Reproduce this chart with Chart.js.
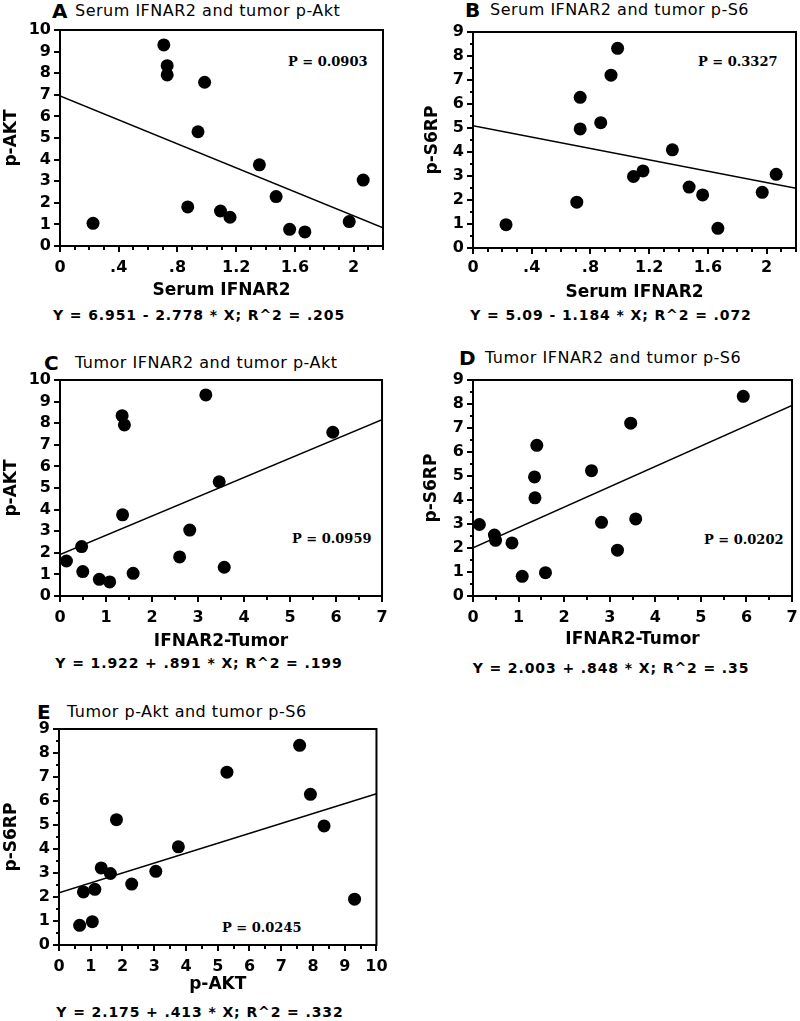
<!DOCTYPE html>
<html>
<head>
<meta charset="utf-8">
<script src="https://cdn.jsdelivr.net/npm/chart.js"></script>
<style>
  body { margin: 0; background: #fff; width: 800px; height: 1021px; position: relative; overflow: hidden; }
  canvas { position: absolute; }
  .ttl { position: absolute; line-height: 20px; height: 20px; white-space: nowrap; color: #000;
         font-family: "DejaVu Sans", sans-serif; font-size: 16px; letter-spacing: 0.5px; }
  .ltr { position: absolute; line-height: 22px; height: 22px; color: #000;
         font-family: "DejaVu Sans", sans-serif; font-size: 20px; font-weight: bold; }
  .eq { position: absolute; width: 400px; text-align: center; line-height: 18px; height: 18px; white-space: nowrap;
        font-family: "DejaVu Sans", sans-serif; font-size: 14px; font-weight: bold; letter-spacing: 0.9px; }
  .pv { position: absolute; line-height: 16px; height: 16px; white-space: nowrap;
        font-family: "DejaVu Serif", serif; font-size: 13px; font-weight: bold; }
</style>
</head>
<body>
<script>
// one entry per patient
const serumIFNAR2 = [0.225, 0.707, 0.73, 0.73, 0.87, 0.94, 0.985, 1.093, 1.158, 1.358, 1.472, 1.564, 1.668, 1.97, 2.065];
const tumorIFNAR2 = [1.59, 3.17, 1.35, 1.40, 2.60, 3.46, 5.93, 0.14, 3.57, 1.36, 0.47, 0.855, 1.08, 0.495, 2.82];
const pAkt        = [1.05, 9.31, 8.35, 7.92, 1.81, 5.29, 7.58, 1.62, 1.33, 3.76, 2.29, 0.77, 0.65, 1.13, 3.05];
const pS6         = [0.97, 1.91, 4.96, 6.28, 5.22, 7.20, 8.32, 2.98, 3.21, 4.09, 2.54, 2.21, 0.82, 2.32, 3.07];

// printed regression results
const intercepts = [6.951, 5.09, 1.922, 2.003, 2.175];
const slopes = [-2.778, -1.184, 0.891, 0.848, 0.413];
const equations = [
  "Y = 6.951 - 2.778 * X; R^2 = .205",
  "Y = 5.09 - 1.184 * X; R^2 = .072",
  "Y = 1.922 + .891 * X; R^2 = .199",
  "Y = 2.003 + .848 * X; R^2 = .35",
  "Y = 2.175 + .413 * X; R^2 = .332"
];
const pValues = ["P = 0.0903", "P = 0.3327", "P = 0.0959", "P = 0.0202", "P = 0.0245"];

// tick labels
const serumTicks = [0, 0.4, 0.8, 1.2, 1.6, 2];
const tumorTicks = [0, 1, 2, 3, 4, 5, 6, 7];
const aktTicks = [0, 1, 2, 3, 4, 5, 6, 7, 8, 9, 10];
const s6Ticks = [0, 1, 2, 3, 4, 5, 6, 7, 8, 9];

const panels = [
  { letter: "A", title: "Serum IFNAR2 and tumor p-Akt", xs: serumIFNAR2, ys: pAkt, xTitle: "Serum IFNAR2", yTitle: "p-AKT",
    xMax: 2.2, yMax: 10, xTicks: serumTicks, yTicks: aktTicks, xMinor: 0.1, yMinor: 0 },
  { letter: "B", title: "Serum IFNAR2 and tumor p-S6", xs: serumIFNAR2, ys: pS6, xTitle: "Serum IFNAR2", yTitle: "p-S6RP",
    xMax: 2.2, yMax: 9, xTicks: serumTicks, yTicks: s6Ticks, xMinor: 0.1, yMinor: 0.5 },
  { letter: "C", title: "Tumor IFNAR2 and tumor p-Akt", xs: tumorIFNAR2, ys: pAkt, xTitle: "IFNAR2-Tumor", yTitle: "p-AKT",
    xMax: 7, yMax: 10, xTicks: tumorTicks, yTicks: aktTicks, xMinor: 0.5, yMinor: 0 },
  { letter: "D", title: "Tumor IFNAR2 and tumor p-S6", xs: tumorIFNAR2, ys: pS6, xTitle: "IFNAR2-Tumor", yTitle: "p-S6RP",
    xMax: 7, yMax: 9, xTicks: tumorTicks, yTicks: s6Ticks, xMinor: 0.5, yMinor: 0.5 },
  { letter: "E", title: "Tumor p-Akt and tumor p-S6", xs: pAkt, ys: pS6, xTitle: "p-AKT", yTitle: "p-S6RP",
    xMax: 10, yMax: 9, xTicks: aktTicks, yTicks: s6Ticks, xMinor: 0.5, yMinor: 0.5 }
];

// page geometry: canvas box, plot box, text anchors
const layout = [
  { cx: 0,   cy: 0,   w: 400, h: 305, L: 60,  T: 30,  R: 383, B: 246, tickY: 268, xtY: 291, ytX: 12,
    lx: 52, tx: 75, ty: 11, eqX: 199, eqY: 315, pX: 288, pY: 62 },
  { cx: 400, cy: 0,   w: 410, h: 305, L: 473, T: 32,  R: 796, B: 248, tickY: 268, xtY: 293, ytX: 433,
    lx: 465, tx: 490, ty: 10, eqX: 611, eqY: 315, pX: 698, pY: 62 },
  { cx: 0,   cy: 330, w: 400, h: 325, L: 60,  T: 380, R: 383, B: 596, tickY: 618, xtY: 642, ytX: 12,
    lx: 44, tx: 75, ty: 363, eqX: 199, eqY: 663, pX: 292, pY: 539 },
  { cx: 400, cy: 330, w: 410, h: 325, L: 473, T: 380, R: 796, B: 596, tickY: 618, xtY: 640, ytX: 432,
    lx: 459, tx: 485, ty: 358, eqX: 611, eqY: 668, pX: 704, pY: 540 },
  { cx: 0,   cy: 660, w: 400, h: 340, L: 59,  T: 729, R: 381, B: 945, tickY: 967, xtY: 985, ytX: 12,
    lx: 37, tx: 67, ty: 712, eqX: 200, eqY: 1012, pX: 222, pY: 928 }
];

Chart.defaults.font.family = "DejaVu Sans";
Chart.defaults.font.weight = "bold";
Chart.defaults.color = "#000";

const tickFont = { family: "DejaVu Sans", size: 16, weight: "bold" };
const titleFont = { family: "DejaVu Sans", size: 17, weight: "bold" };
const lineH = 1.2;

function fmt(v) {
  return String(v).replace(/^0\./, ".");
}

// frame and outward tick marks, drawn from the chart's own scales
const framePlugin = {
  id: "frame",
  beforeDatasetsDraw(chart, args, opts) {
    const { ctx, chartArea: a, scales: { x, y } } = chart;
    ctx.save();
    ctx.strokeStyle = "#000";
    ctx.lineWidth = 2;
    ctx.strokeRect(a.left, a.top, a.right - a.left, a.bottom - a.top);
    ctx.beginPath();
    const drawX = (v, len) => { const px = Math.round(x.getPixelForValue(v)); ctx.moveTo(px, a.bottom); ctx.lineTo(px, a.bottom + len); };
    const drawY = (v, len) => { const py = Math.round(y.getPixelForValue(v)); ctx.moveTo(a.left, py); ctx.lineTo(a.left - len, py); };
    if (opts.xMinor) {
      const n = Math.round(x.max / opts.xMinor);
      for (let i = 0; i <= n; i++) drawX(i * opts.xMinor, 4);
    }
    if (opts.yMinor) {
      const n = Math.round(y.max / opts.yMinor);
      for (let i = 0; i <= n; i++) drawY(i * opts.yMinor, 3);
    }
    x.ticks.forEach(t => drawX(t.value, 6));
    y.ticks.forEach(t => drawY(t.value, 6));
    ctx.stroke();
    ctx.restore();
  }
};

function addText(cls, text, left, top) {
  const d = document.createElement("div");
  d.className = cls;
  d.textContent = text;
  d.style.left = left + "px";
  d.style.top = top + "px";
  document.body.appendChild(d);
}

panels.forEach((p, i) => {
  const g = layout[i];
  addText("ltr", p.letter, g.lx, g.ty - 11);
  addText("ttl", p.title, g.tx, g.ty - 10);
  addText("eq", equations[i], g.eqX - 200, g.eqY - 9);
  addText("pv", pValues[i], g.pX, g.pY - 8);

  const cv = document.createElement("canvas");
  cv.width = g.w;
  cv.height = g.h;
  cv.style.left = g.cx + "px";
  cv.style.top = g.cy + "px";
  document.body.appendChild(cv);

  const points = p.xs.map((v, k) => ({ x: v, y: p.ys[k] }));
  const fit = [0, p.xMax].map(v => ({ x: v, y: intercepts[i] + slopes[i] * v }));
  const tickLH = tickFont.size * lineH;
  const titleLH = titleFont.size * lineH;

  new Chart(cv.getContext("2d"), {
    type: "scatter",
    data: {
      datasets: [
        { data: points, backgroundColor: "#000", borderWidth: 0, pointRadius: 6.5, pointHoverRadius: 6.5, clip: false },
        { type: "line", data: fit, borderColor: "#000", borderWidth: 1.5, pointRadius: 0, fill: false, tension: 0 }
      ]
    },
    options: {
      responsive: false,
      animation: false,
      events: [],
      layout: { autoPadding: false, padding: { left: 0, top: g.T - g.cy, right: g.cx + g.w - g.R, bottom: 0 } },
      plugins: { legend: { display: false }, tooltip: { enabled: false }, frame: { xMinor: p.xMinor, yMinor: p.yMinor } },
      scales: {
        x: {
          type: "linear", min: 0, max: p.xMax,
          grid: { display: false, drawTicks: false },
          border: { display: false },
          afterBuildTicks: s => { s.ticks = p.xTicks.map(v => ({ value: v })); },
          afterFit: s => { s.height = g.cy + g.h - g.B; },
          ticks: { color: "#000", font: tickFont, padding: g.tickY - g.B - tickLH / 2, autoSkip: false, maxRotation: 0, callback: v => fmt(v) },
          title: { display: true, text: p.xTitle, color: "#000", font: titleFont, padding: { top: 0, bottom: g.cy + g.h - g.xtY - titleLH / 2 } }
        },
        y: {
          type: "linear", min: 0, max: p.yMax,
          grid: { display: false, drawTicks: false },
          border: { display: false },
          afterBuildTicks: s => { s.ticks = p.yTicks.map(v => ({ value: v })); },
          afterFit: s => { s.width = g.L - g.cx; },
          ticks: { color: "#000", font: tickFont, padding: 9, autoSkip: false, callback: v => fmt(v) },
          title: { display: true, text: p.yTitle, color: "#000", font: titleFont, padding: { top: g.ytX - g.cx - titleLH / 2, bottom: 0 } }
        }
      }
    },
    plugins: [framePlugin]
  });
});
</script>
</body>
</html>
